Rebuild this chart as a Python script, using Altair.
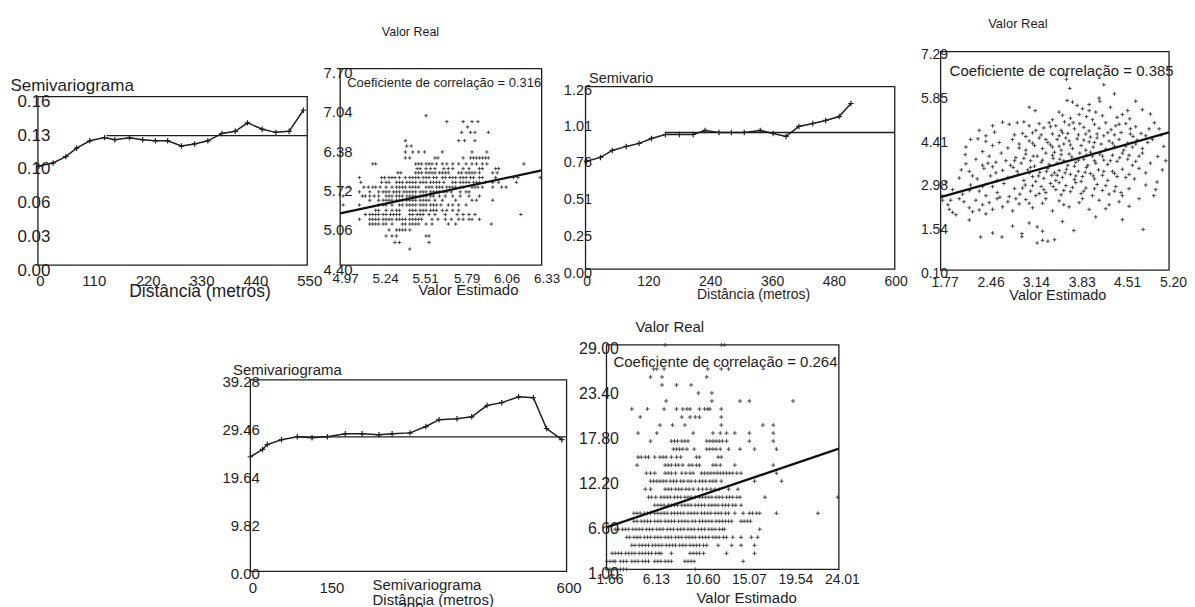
import altair as alt
import pandas as pd

FONT = "Liberation Sans"
INK = "#1e1e1e"
CROSS = "M-1,0L1,0M0,-1L0,1"
W, H = 1179, 599
NB = "\u00a0"

# ---------------- semivariogram 1 ----------------
p1_dist = [2, 31, 57, 79, 106, 136, 157, 187, 214, 240, 265, 293, 320, 347, 376, 403, 428, 458, 486, 513, 542]
p1_gamma = [0.094, 0.097, 0.103, 0.111, 0.118, 0.121, 0.119, 0.121, 0.119, 0.118, 0.118, 0.113, 0.115,
            0.118, 0.125, 0.127, 0.135, 0.129, 0.126, 0.127, 0.147]
p1_sill = [0.123]
p1_sill_from = [140]
p1_xticks = [0, 110, 220, 330, 440, 550]
p1_yticks = [0.0, 0.032, 0.064, 0.096, 0.128, 0.16]

# ---------------- semivariogram 2 ----------------
p3_dist = [2, 29, 52, 79, 104, 128, 155, 182, 209, 232, 259, 283, 308, 339, 364, 389, 414, 441, 466, 492, 515]
p3_gamma = [0.744, 0.771, 0.819, 0.847, 0.868, 0.902, 0.929, 0.929, 0.929, 0.957, 0.943, 0.943, 0.943,
            0.957, 0.936, 0.916, 0.985, 1.005, 1.026, 1.053, 1.143]
p3_sill = [0.943]
p3_sill_from = [155]
p3_xticks = [0, 120, 240, 360, 480, 600]
p3_yticks = [0.0, 0.25, 0.51, 0.76, 1.01, 1.26]

# ---------------- semivariogram 3 ----------------
p5_dist = [0, 23, 32, 59, 89, 117, 146, 180, 212, 244, 269, 303, 333, 358, 392, 420, 449, 477, 509, 537, 562, 591]
p5_gamma = [23.5, 25.0, 26.0, 27.0, 27.6, 27.4, 27.6, 28.2, 28.2, 28.0, 28.2, 28.4, 29.7, 31.1, 31.3, 31.7,
            34.0, 34.6, 35.8, 35.6, 29.3, 27.0]
p5_sill = [27.6]
p5_sill_from = [89]
p5_xticks = [0, 150, 300, 450, 600]
p5_yticks = [0.0, 9.82, 19.64, 29.46, 39.28]

# ---------------- scatter 1 (rows of Valor Real) ----------------
p2_real = [6.91, 6.81, 6.72, 6.63, 6.49, 6.40, 6.30, 6.20, 6.10, 6.02, 5.95, 5.87, 5.79, 5.71, 5.63, 5.56,
           5.49, 5.41, 5.32, 5.25, 5.17, 5.09, 4.99, 4.89, 4.78, 4.67]
p2_est = [
    [5.55],
    [5.69, 5.80, 5.86, 5.90],
    [5.83],
    [5.79, 5.85, 5.88, 5.97],
    [5.41, 5.77, 5.81, 5.88],
    [5.42, 5.45],
    [5.41, 5.46, 5.50, 5.54, 5.66, 5.86, 5.96],
    [5.41, 5.44, 5.61, 5.63, 5.80, 5.85, 5.87, 5.89, 5.91, 5.93, 5.95, 5.97],
    [5.19, 5.21, 5.48, 5.50, 5.52, 5.55, 5.57, 5.59, 5.62, 5.66, 5.69, 5.73, 5.77, 5.82, 5.86, 5.89, 5.93, 5.96, 6.21],
    [5.49, 5.51, 5.55, 5.58, 5.61, 5.67, 5.70, 5.73, 5.80, 5.84, 5.91, 5.93, 6.02, 6.04],
    [5.36, 5.38, 5.48, 5.50, 5.52, 5.55, 5.57, 5.59, 5.61, 5.64, 5.66, 5.68, 5.70, 5.77, 5.79, 5.82, 5.84, 5.86,
     5.88, 5.91, 6.00, 6.03],
    [5.10, 5.25, 5.27, 5.30, 5.32, 5.34, 5.37, 5.41, 5.44, 5.46, 5.48, 5.50, 5.53, 5.55, 5.57, 5.60, 5.62, 5.66,
     5.68, 5.71, 5.73, 5.75, 5.78, 5.80, 5.82, 5.85, 5.87, 5.91, 5.93, 6.02, 6.14, 6.17, 6.32],
    [5.11, 5.25, 5.28, 5.30, 5.35, 5.37, 5.39, 5.42, 5.44, 5.46, 5.48, 5.51, 5.53, 5.55, 5.58, 5.60, 5.62, 5.64,
     5.67, 5.73, 5.75, 5.78, 5.80, 5.82, 5.84, 5.87, 5.89, 5.91, 5.95, 6.00, 6.04, 6.16],
    [5.03, 5.13, 5.16, 5.19, 5.21, 5.24, 5.28, 5.32, 5.35, 5.37, 5.39, 5.41, 5.44, 5.46, 5.48, 5.50, 5.55, 5.57,
     5.59, 5.62, 5.64, 5.66, 5.69, 5.71, 5.73, 5.75, 5.78, 5.80, 5.86, 5.88, 5.90, 5.93, 6.00, 6.06, 6.09],
    [5.10, 5.17, 5.23, 5.26, 5.28, 5.30, 5.33, 5.35, 5.37, 5.40, 5.42, 5.44, 5.46, 5.48, 5.51, 5.53, 5.55, 5.58,
     5.60, 5.62, 5.64, 5.67, 5.69, 5.72, 5.78, 5.82, 5.84],
    [4.99, 5.12, 5.14, 5.17, 5.20, 5.23, 5.28, 5.30, 5.32, 5.35, 5.37, 5.39, 5.42, 5.44, 5.46, 5.48, 5.51, 5.53,
     5.55, 5.58, 5.60, 5.64, 5.68, 5.73, 5.78, 5.84, 5.91],
    [5.17, 5.23, 5.26, 5.28, 5.30, 5.32, 5.35, 5.37, 5.39, 5.42, 5.44, 5.46, 5.48, 5.51, 5.53, 5.55, 5.57, 5.61,
     5.66, 5.75, 5.86, 5.89, 6.00],
    [4.99, 5.10, 5.23, 5.26, 5.28, 5.32, 5.37, 5.39, 5.42, 5.44, 5.46, 5.48, 5.51, 5.53, 5.55, 5.58, 5.60, 5.62,
     5.65, 5.70, 5.73, 5.77, 5.82],
    [5.21, 5.23, 5.28, 5.32, 5.35, 5.37, 5.44, 5.46, 5.48, 5.51, 5.53, 5.55, 5.58, 5.60, 5.62, 5.66, 5.69, 5.73, 5.77],
    [5.14, 5.17, 5.19, 5.21, 5.23, 5.26, 5.28, 5.31, 5.33, 5.35, 5.37, 5.44, 5.46, 5.49, 5.51, 5.53, 5.57, 5.61,
     5.68, 5.76, 5.80, 5.84, 5.88, 6.19],
    [5.10, 5.17, 5.19, 5.21, 5.23, 5.26, 5.28, 5.30, 5.32, 5.35, 5.37, 5.39, 5.41, 5.44, 5.46, 5.48, 5.50, 5.52,
     5.59, 5.63, 5.68, 5.72, 5.77, 5.80, 5.84, 5.86, 5.91],
    [5.17, 5.19, 5.21, 5.23, 5.26, 5.28, 5.32, 5.39, 5.41, 5.44, 5.46, 5.48, 5.50, 5.55, 5.59, 5.70, 5.75, 5.99],
    [5.30, 5.35, 5.37, 5.39, 5.41, 5.44],
    [5.28, 5.32, 5.35, 5.55, 5.57],
    [5.34, 5.37, 5.57],
    [5.44],
]
p2_fit_x = [4.97, 6.33]
p2_fit_y = [5.27, 5.99]
p2_xticks = [4.97, 5.24, 5.51, 5.79, 6.06, 6.33]
p2_yticks = [4.40, 5.06, 5.72, 6.38, 7.04, 7.70]
p2_corr = "Coeficiente de correlação = 0.316"

# ---------------- scatter 2 (Valor Estimado, Valor Real) ----------------
p4_points = [
    (3.65, 6.52), (3.66, 6.38), (3.71, 6.08), (4.22, 6.20), (4.38, 5.90), (4.15, 5.76), (4.16, 5.66), (4.70, 5.66),
    (3.67, 5.68), (3.75, 5.63), (3.82, 5.52), (3.90, 5.41), (4.00, 5.35), (4.10, 5.30), (4.32, 5.46), (4.42, 5.13),
    (4.58, 5.35), (4.61, 5.08), (4.92, 5.24), (3.10, 5.46), (3.19, 5.35), (3.55, 5.30), (3.60, 5.20), (3.72, 5.10),
    (3.85, 5.22), (3.96, 5.15), (4.05, 5.05), (4.20, 5.18), (4.50, 5.22), (4.80, 5.38), (4.98, 4.95),
    (2.70, 4.97), (2.80, 4.90), (2.92, 4.95), (3.02, 4.98), (3.10, 4.85), (3.25, 4.92), (3.32, 4.78), (3.40, 4.95),
    (3.50, 4.85), (3.58, 4.70), (3.63, 4.98), (3.70, 4.88), (3.78, 4.75), (3.86, 4.92), (3.92, 4.80), (4.00, 4.68),
    (4.08, 4.90), (4.15, 4.77), (4.25, 4.95), (4.33, 4.72), (4.40, 4.85), (4.48, 4.63), (4.55, 4.92), (4.62, 4.75),
    (4.70, 4.82), (4.78, 4.60), (4.90, 4.75), (5.05, 4.75), (2.58, 4.64), (2.45, 4.52), (2.88, 4.55), (3.00, 4.60),
    (3.15, 4.62), (3.28, 4.55), (3.45, 4.58), (3.55, 4.52), (3.68, 4.60), (3.84, 4.55), (4.12, 4.58), (4.22, 4.52),
    (4.38, 4.55), (4.66, 4.50),
    (2.15, 4.15), (2.33, 4.42), (2.45, 4.34), (2.55, 4.20), (2.65, 4.30), (2.78, 4.12), (2.85, 4.40), (2.95, 4.25),
    (3.05, 4.05), (3.10, 4.35), (3.18, 4.20), (3.25, 4.45), (3.30, 4.10), (3.38, 4.30), (3.45, 4.15), (3.52, 4.40),
    (3.58, 4.05), (3.62, 4.25), (3.70, 4.35), (3.75, 4.10), (3.82, 4.42), (3.88, 4.20), (3.95, 4.05), (4.00, 4.32),
    (4.06, 4.15), (4.12, 4.45), (4.18, 4.25), (4.25, 4.08), (4.30, 4.35), (4.38, 4.18), (4.45, 4.40), (4.52, 4.05),
    (4.58, 4.28), (4.65, 4.15), (4.72, 4.38), (4.80, 4.10), (4.88, 4.30), (5.12, 4.17), (2.40, 4.00), (3.35, 4.40),
    (3.65, 4.45), (4.02, 4.48),
    (2.14, 3.90), (2.15, 3.60), (2.30, 3.75), (2.40, 3.55), (2.50, 3.85), (2.60, 3.65), (2.68, 3.95), (2.75, 3.70),
    (2.82, 3.55), (2.90, 3.80), (2.98, 3.62), (3.05, 3.92), (3.12, 3.70), (3.18, 3.52), (3.22, 3.85), (3.28, 3.65),
    (3.35, 3.95), (3.40, 3.58), (3.46, 3.78), (3.52, 3.62), (3.58, 3.90), (3.62, 3.70), (3.68, 3.55), (3.74, 3.82),
    (3.80, 3.65), (3.86, 3.95), (3.92, 3.75), (3.98, 3.55), (4.05, 3.85), (4.10, 3.62), (4.16, 3.92), (4.22, 3.72),
    (4.28, 3.58), (4.35, 3.88), (4.42, 3.68), (4.50, 3.95), (4.58, 3.75), (4.65, 3.55), (4.75, 3.85), (4.80, 3.95),
    (5.03, 3.84), (4.92, 3.62), (2.55, 3.50), (3.48, 3.98), (3.78, 3.52), (4.02, 3.98),
    (2.05, 3.13), (2.20, 3.35), (2.32, 3.10), (2.42, 3.45), (2.52, 3.20), (2.62, 3.05), (2.70, 3.38), (2.78, 3.15),
    (2.86, 3.48), (2.94, 3.25), (3.02, 3.05), (3.08, 3.40), (3.15, 3.18), (3.20, 3.02), (3.26, 3.32), (3.32, 3.12),
    (3.38, 3.45), (3.44, 3.22), (3.50, 3.05), (3.55, 3.38), (3.60, 3.15), (3.66, 3.42), (3.72, 3.25), (3.78, 3.08),
    (3.84, 3.35), (3.90, 3.18), (3.96, 3.48), (4.02, 3.28), (4.08, 3.10), (4.14, 3.40), (4.20, 3.22), (4.28, 3.05),
    (4.35, 3.35), (4.42, 3.18), (4.50, 3.42), (4.60, 3.25), (4.68, 3.10), (5.02, 3.00), (4.85, 3.30), (3.12, 3.48),
    (3.48, 3.30), (3.88, 3.02),
    (1.95, 2.75), (2.10, 2.60), (2.22, 2.90), (2.35, 2.70), (2.45, 2.55), (2.55, 2.85), (2.62, 2.65), (2.72, 2.95),
    (2.80, 2.52), (2.88, 2.78), (2.96, 2.60), (3.04, 2.90), (3.12, 2.70), (3.20, 2.55), (3.28, 2.85), (3.35, 2.65),
    (3.42, 2.95), (3.50, 2.75), (3.58, 2.58), (3.65, 2.88), (3.72, 2.68), (3.80, 2.98), (3.88, 2.62), (3.95, 2.80),
    (4.05, 2.55), (4.12, 2.92), (4.20, 2.72), (4.30, 2.60), (4.40, 2.85), (4.48, 2.65), (4.60, 2.78), (4.97, 2.55),
    (5.00, 2.75), (3.55, 2.98), (3.25, 2.62),
    (1.79, 2.55), (1.80, 2.40), (1.90, 2.10), (1.95, 2.00), (2.00, 1.92), (1.88, 2.25), (2.05, 2.45), (2.12, 2.35),
    (2.20, 2.15), (2.25, 2.02), (2.30, 2.40), (2.35, 2.08), (2.40, 2.25), (2.45, 1.95), (2.50, 2.32), (2.55, 2.10),
    (2.62, 2.45), (2.70, 2.18), (2.78, 2.35), (2.85, 2.05), (2.95, 2.28), (3.05, 2.42), (3.15, 2.15), (3.30, 2.30),
    (3.45, 2.05), (3.55, 2.38), (3.70, 2.18), (3.85, 2.32), (4.00, 2.10), (4.15, 2.40), (4.30, 2.25), (4.45, 2.35),
    (4.60, 2.20), (4.75, 2.45),
    (2.37, 1.19), (2.55, 1.32), (2.69, 1.19), (2.99, 1.30), (2.99, 1.20), (3.22, 1.52), (3.22, 0.99), (3.30, 1.08),
    (3.38, 1.05), (3.48, 1.10), (3.77, 1.40), (3.30, 1.38), (3.10, 1.65), (2.20, 1.75), (2.85, 1.55), (4.50, 1.76),
    (4.81, 1.44), (3.60, 1.70), (4.10, 1.85),
    (3.05, 4.50), (3.20, 4.70), (3.42, 4.82), (3.60, 4.62), (3.76, 4.95), (3.95, 4.58), (4.28, 4.62), (4.45, 4.90),
    (4.62, 4.58), (4.85, 4.52), (2.95, 4.12), (3.15, 4.28), (3.42, 4.22), (3.55, 4.18), (3.72, 4.22), (3.92, 4.38),
    (4.08, 4.30), (4.35, 4.28), (4.55, 4.18), (4.70, 4.25), (2.88, 3.70), (3.02, 3.78), (3.16, 3.85), (3.30, 3.72),
    (3.45, 3.88), (3.56, 3.75), (3.70, 3.92), (3.84, 3.72), (3.96, 3.88), (4.08, 3.70), (4.20, 3.85), (4.32, 3.70),
    (4.46, 3.80), (4.60, 3.88), (4.70, 3.68), (2.92, 3.35), (3.10, 3.30), (3.24, 3.20), (3.36, 3.35), (3.52, 3.22),
    (3.64, 3.30), (3.80, 3.20), (3.94, 3.32), (4.06, 3.20), (4.22, 3.35), (4.38, 3.28), (4.55, 3.15), (4.75, 3.45),
    (3.00, 2.80), (3.15, 2.88), (3.32, 2.75), (3.46, 2.85), (3.62, 2.72), (3.75, 2.82), (3.92, 2.70), (4.08, 2.78),
    (4.25, 2.88), (4.38, 2.70), (2.60, 3.30), (2.48, 3.62), (2.25, 3.20), (2.08, 3.40), (2.20, 2.72), (2.40, 2.85),
    (2.66, 2.50), (2.90, 2.45), (3.10, 2.30), (3.35, 2.45), (3.62, 2.25), (3.90, 2.45), (4.25, 2.12), (4.50, 2.55),
    (4.85, 2.90), (5.10, 3.40), (5.15, 3.70), (4.95, 4.40), (5.08, 4.55), (4.00, 5.55), (3.45, 5.05), (2.55, 4.85),
    (2.35, 4.70), (2.22, 4.40), (1.85, 3.00), (1.92, 2.40),
]
p4_fit_x = [1.77, 5.20]
p4_fit_y = [2.50, 4.63]
p4_xticks = [1.77, 2.46, 3.14, 3.83, 4.51, 5.20]
p4_yticks = [0.10, 1.54, 2.98, 4.41, 5.85, 7.29]
p4_corr = "Coeficiente de correlação = 0.385"

# ---------------- scatter 3 (rows of Valor Real) ----------------
p6_real = [29, 26, 25, 24, 23, 22, 21, 20, 19, 18, 17, 16, 15, 14, 13, 12, 11, 10, 9, 8, 7, 6, 5, 4, 3, 2, 1]
p6_est = [
    [7.3, 12.7, 13.0],
    [6.2, 6.5, 7.2, 11.4, 12.7, 13.4],
    [5.9, 7.0, 11.3],
    [7.0, 8.4, 9.8],
    [10.5, 11.8],
    [7.4, 11.8, 14.5, 15.4, 19.6],
    [4.1, 5.6, 7.2, 8.4, 9.0, 9.4, 9.7, 10.6, 11.1, 11.4, 11.6, 12.7],
    [4.9, 8.9, 9.7, 10.2, 10.6, 12.7],
    [6.8, 8.0, 9.2, 12.7, 16.7, 17.7],
    [4.7, 6.5, 10.0, 11.9, 12.6, 13.2, 14.0, 15.4, 17.7],
    [5.9, 7.9, 8.2, 8.5, 8.9, 9.2, 9.5, 11.3, 11.6, 11.9, 12.2, 12.5, 12.8, 13.2, 15.4, 17.7],
    [8.1, 8.4, 8.7, 9.0, 9.4, 10.1, 11.3, 11.6, 11.9, 12.2, 12.6, 13.4, 14.5, 15.9, 18.0],
    [4.7, 5.0, 5.4, 5.7, 6.3, 6.8, 7.1, 7.4, 7.9, 8.4, 8.8, 10.3, 10.6, 12.4, 12.7],
    [4.6, 7.3, 7.6, 7.9, 8.3, 8.6, 9.0, 9.6, 9.9, 10.3, 10.6, 11.9, 12.2, 12.6, 14.0, 17.7],
    [5.5, 5.9, 6.3, 7.3, 7.6, 7.9, 8.3, 8.9, 9.3, 9.7, 10.0, 10.8, 11.1, 11.4, 11.7, 12.0, 12.3, 12.6, 12.9,
     13.2, 13.5, 13.8, 14.2, 14.6, 18.0],
    [5.9, 6.2, 6.5, 6.8, 7.1, 7.4, 7.8, 8.1, 8.4, 8.8, 9.1, 9.5, 9.8, 10.2, 10.6, 10.9, 11.2, 11.6, 11.9, 12.2,
     12.7, 15.9, 18.5],
    [5.4, 5.9, 7.3, 7.6, 7.9, 8.3, 8.6, 8.9, 9.3, 9.6, 10.0, 10.5, 10.9, 11.3, 11.7, 12.1, 12.5, 13.4, 14.3],
    [5.7, 6.0, 6.4, 6.9, 7.2, 7.5, 7.8, 8.2, 8.5, 8.8, 9.2, 9.5, 9.8, 10.2, 10.6, 10.9, 11.2, 11.5, 11.8, 12.2,
     12.5, 12.8, 13.2, 13.5, 13.8, 14.2, 14.5, 16.9, 23.9],
    [6.3, 6.6, 6.9, 7.2, 7.6, 7.9, 8.2, 8.5, 8.9, 9.2, 9.5, 9.8, 10.2, 10.5, 10.8, 11.1, 11.5, 11.8, 12.1, 12.4,
     12.8, 13.1, 13.4, 13.8, 14.1, 14.6],
    [4.3, 4.6, 4.9, 5.3, 5.6, 5.9, 6.3, 6.6, 6.9, 7.2, 7.5, 7.9, 8.2, 8.5, 8.8, 9.1, 9.5, 9.8, 10.1, 10.4, 10.8,
     11.1, 11.4, 11.7, 12.1, 12.4, 12.7, 13.1, 13.4, 14.0, 14.8, 15.4, 15.7, 16.1, 16.4, 18.0, 22.0],
    [4.3, 4.6, 5.0, 5.3, 5.6, 5.9, 6.3, 6.6, 6.9, 7.3, 7.6, 7.9, 8.2, 8.6, 8.9, 9.2, 9.5, 9.9, 10.2, 10.6, 10.9,
     11.2, 11.5, 11.8, 12.2, 12.5, 12.8, 13.1, 13.4, 13.7, 14.6, 14.9, 15.2, 15.5],
    [2.5, 2.8, 3.2, 3.5, 3.8, 4.2, 4.5, 4.8, 5.1, 5.5, 5.8, 6.1, 6.5, 6.8, 7.1, 7.5, 7.8, 8.1, 8.5, 8.8, 9.1,
     9.5, 9.8, 10.1, 10.5, 10.8, 11.1, 11.5, 11.8, 12.1, 12.5, 12.8, 13.0, 16.4],
    [3.6, 3.9, 4.3, 4.6, 4.9, 5.3, 5.6, 5.9, 6.3, 6.6, 6.9, 7.3, 7.6, 7.9, 8.3, 8.6, 8.9, 9.3, 9.6, 9.9, 10.2,
     10.6, 10.9, 11.2, 11.5, 11.9, 12.2, 12.5, 12.9, 13.2, 13.8, 14.6, 15.6, 16.2],
    [4.1, 4.4, 4.8, 5.1, 5.4, 5.7, 6.1, 6.4, 6.7, 7.0, 7.4, 7.7, 8.0, 8.3, 8.7, 9.0, 9.3, 9.7, 10.0, 10.3, 10.6,
     11.0, 11.3, 12.4, 13.7, 14.6, 15.9],
    [2.2, 2.5, 2.8, 3.1, 3.5, 3.8, 4.1, 4.4, 4.8, 5.1, 5.4, 5.7, 6.0, 6.4, 6.7, 6.9, 7.9, 9.7, 10.0, 10.3, 10.6,
     11.0, 13.2, 15.9],
    [1.7, 2.0, 2.3, 2.5, 3.0, 3.3, 3.6, 4.1, 4.4, 4.7, 5.1, 5.4, 5.7, 6.3, 6.6, 6.9, 7.3, 7.6, 7.9, 9.2, 9.5,
     9.8, 10.1, 14.8],
    [1.7, 2.0, 2.3, 2.6, 3.0, 3.3, 3.6, 10.2],
]
p6_fit_x = [1.66, 24.01]
p6_fit_y = [6.23, 16.06]
p6_xticks = [1.66, 6.13, 10.60, 15.07, 19.54, 24.01]
p6_yticks = [1.00, 6.60, 12.20, 17.80, 23.40, 29.00]
p6_corr = "Coeficiente de correlação = 0.264"


# ---------------- helpers ----------------
def rows_to_df(real, est):
    xs, ys = [], []
    for r, row in zip(real, est):
        for e in row:
            xs.append(e)
            ys.append(r)
    return pd.DataFrame({"x": xs, "y": ys})


def bottom_axis(values, fmt, offset, pad, size, loff, title, tx, ty, tsize, talign="center", **extra):
    return alt.Axis(orient="bottom", offset=offset, values=values, format=fmt, domain=False, ticks=False,
                    tickSize=0, grid=False, labelFlush=False, labelOverlap=False, labelPadding=pad,
                    labelFontSize=size, labelOffset=loff, labelFont=FONT, labelColor=INK, title=title,
                    titleX=tx, titleY=ty, titleFontSize=tsize, titleFont=FONT, titleColor=INK,
                    titleFontWeight="normal", titleAlign=talign, titleBaseline="alphabetic", **extra)


def left_axis(values, fmt, offset, pad, size, loff, title, tx, ty, tsize, talign="left"):
    return alt.Axis(orient="left", offset=offset, values=values, format=fmt, domain=False, ticks=False,
                    tickSize=0, grid=False, labelFlush=False, labelOverlap=False, labelPadding=pad,
                    labelFontSize=size, labelOffset=loff, labelFont=FONT, labelColor=INK, title=title,
                    titleX=tx, titleY=ty, titleAngle=0, titleFontSize=tsize, titleFont=FONT, titleColor=INK,
                    titleFontWeight="normal", titleAlign=talign, titleBaseline="alphabetic")


def scales(xticks, yticks, xr, yr):
    xs = alt.Scale(domain=[xticks[0], xticks[-1]], range=xr, nice=False, zero=False)
    ys = alt.Scale(domain=[yticks[0], yticks[-1]], range=yr, nice=False, zero=False)
    return xs, ys


def box(xticks, yticks, xs, ys, xax, yax):
    df = pd.DataFrame({"x": [xticks[0]], "x2": [xticks[-1]], "y": [yticks[0]], "y2": [yticks[-1]]})
    return alt.Chart(df).mark_rect(fill="transparent", stroke=INK, strokeWidth=1.3).encode(
        x=alt.X("x:Q", scale=xs, axis=xax), x2=alt.X2("x2"),
        y=alt.Y("y:Q", scale=ys, axis=yax), y2=alt.Y2("y2"))


def sv_panel(dist, gamma, sill, sill_from, xticks, yticks, xr, yr, xax, yax):
    xs, ys = scales(xticks, yticks, xr, yr)
    frame = box(xticks, yticks, xs, ys, xax, yax)
    sill_df = pd.DataFrame({"x": [sill_from[0]], "x2": [xticks[-1]], "y": [sill[0]]})
    rule = alt.Chart(sill_df).mark_rule(color=INK, strokeWidth=1.3).encode(
        x=alt.X("x:Q", scale=xs), x2=alt.X2("x2"), y=alt.Y("y:Q", scale=ys))
    df = pd.DataFrame({"x": dist, "y": gamma})
    line = alt.Chart(df).mark_line(color=INK, strokeWidth=1.5).encode(
        x=alt.X("x:Q", scale=xs), y=alt.Y("y:Q", scale=ys))
    pts = alt.Chart(df).mark_point(shape=CROSS, filled=False, color=INK, strokeWidth=1.2, size=30,
                                   opacity=1).encode(x=alt.X("x:Q", scale=xs), y=alt.Y("y:Q", scale=ys))
    return alt.layer(frame, rule, line, pts)


def sc_panel(df, fit_x, fit_y, xticks, yticks, xr, yr, xax, yax, corr, tsize, dx, dy, psize):
    xs, ys = scales(xticks, yticks, xr, yr)
    frame = box(xticks, yticks, xs, ys, xax, yax)
    pts = alt.Chart(df).mark_point(shape=CROSS, filled=False, color="#3a3a3a", strokeWidth=0.9, size=psize,
                                   opacity=1).encode(x=alt.X("x:Q", scale=xs), y=alt.Y("y:Q", scale=ys))
    fit = alt.Chart(pd.DataFrame({"x": fit_x, "y": fit_y})).mark_line(color="#111111", strokeWidth=2.3).encode(
        x=alt.X("x:Q", scale=xs), y=alt.Y("y:Q", scale=ys))
    tdf = pd.DataFrame({"x": [xticks[0]], "y": [yticks[-1]], "t": [corr]})
    txt = alt.Chart(tdf).mark_text(align="left", baseline="alphabetic", dx=dx, dy=dy, font=FONT,
                                   fontSize=tsize, color=INK).encode(
        x=alt.X("x:Q", scale=xs), y=alt.Y("y:Q", scale=ys), text="t:N")
    return alt.layer(frame, pts, fit, txt)


# ---------------- panels ----------------
panel1 = sv_panel(
    p1_dist, p1_gamma, p1_sill, p1_sill_from, p1_xticks, p1_yticks, [30, 300], [257, 88],
    bottom_axis(p1_xticks, "d", 257 - H, 8, 15, 2, "Distância (metros)", 192, 31, 17.5),
    left_axis(p1_yticks, ".2f", -30, -12, 17, 5, "Semivariograma", -28, 82, 17))

panel2 = sc_panel(
    rows_to_df(p2_real, p2_est), p2_fit_x, p2_fit_y, p2_xticks, p2_yticks, [333, 535], [257, 60],
    bottom_axis(p2_xticks, ".2f", 257 - H, 6, 13.5, 5, "Valor Estimado", 461, 29, 15),
    left_axis(p2_yticks, ".2f", -333, -12, 15, 4, "Valor Real", 70, 27, 12.5, "center"),
    p2_corr, 13, 7, 18, 12)

panel3 = sv_panel(
    p3_dist, p3_gamma, p3_sill, p3_sill_from, p3_xticks, p3_yticks, [579, 889], [261, 78],
    bottom_axis(p3_xticks, "d", 261 - H, 5, 14, 1, "Distância (metros)", 747, 29, 14),
    left_axis(p3_yticks, ".2f", -579, -6, 14.5, 4, "Semivario", 3, 74, 14.5))

panel4 = sc_panel(
    pd.DataFrame({"x": [p[0] for p in p4_points], "y": [p[1] for p in p4_points]}),
    p4_fit_x, p4_fit_y, p4_xticks, p4_yticks, [935, 1164], [262, 43],
    bottom_axis(p4_xticks, ".2f", 262 - H, 5, 14, 4, "Valor Estimado", 1052, 29, 14.5),
    left_axis(p4_yticks, ".2f", -935, -7, 14, 3, "Valor Real", 77, 19, 13, "center"),
    p4_corr, 15, 9, 24, 14)

panel5 = sv_panel(
    p5_dist, p5_gamma, p5_sill, p5_sill_from, p5_xticks, p5_yticks, [243, 560], [564, 372],
    bottom_axis(p5_xticks, "d", 564 - H, 9, 15, 2,
                [NB * 8 + "Semivariograma", "Distância (metros)"], 365, 18, 15, "left",
                titleLineHeight=15, labelLineHeight=20,
                labelExpr="datum.value == 300 ? ['', '300'] : (datum.value == 450 ? '' : datum.label)"),
    left_axis(p5_yticks, ".2f", -243, -9, 15, 2, "Semivariograma", -18, 367, 15))

panel6 = sc_panel(
    rows_to_df(p6_real, p6_est), p6_fit_x, p6_fit_y, p6_xticks, p6_yticks, [600, 833], [562, 337],
    bottom_axis(p6_xticks, ".2f", 562 - H, 3, 14, 3, "Valor Estimado", 740, 33, 15),
    left_axis(p6_yticks, ".2f", -600, -12, 16, 4, "Valor Real", 63, 324, 15, "center"),
    p6_corr, 15, 7, 22, 16)

chart = alt.layer(panel1, panel2, panel3, panel4, panel5, panel6).resolve_scale(
    x="independent", y="independent").resolve_axis(x="independent", y="independent").properties(
    width=W, height=H, padding=0, background="white").configure_view(stroke=None)

chart.save("out.html", embed_options={"renderer": "svg", "actions": False})
